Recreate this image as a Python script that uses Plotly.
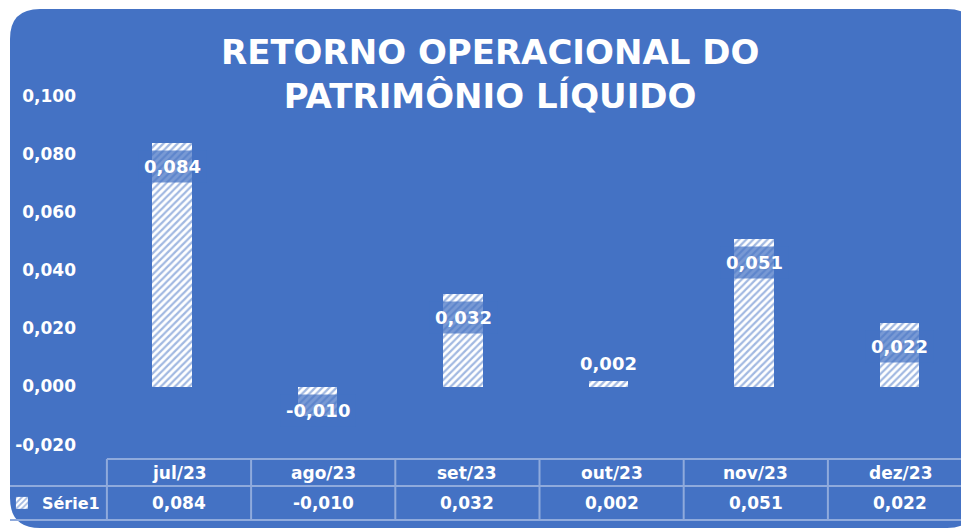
import plotly.graph_objects as go

# ---------------- data ----------------
categories = ["jul/23", "ago/23", "set/23", "out/23", "nov/23", "dez/23"]
values = [0.084, -0.010, 0.032, 0.002, 0.051, 0.022]
series_name = "Série1"
title_lines = ["RETORNO OPERACIONAL DO", "PATRIMÔNIO LÍQUIDO"]
y_tick_values = [-0.02, 0.0, 0.02, 0.04, 0.06, 0.08, 0.10]
y_tick_labels = ["-0,020", "0,000", "0,020", "0,040", "0,060", "0,080", "0,100"]

# ---------------- styling ----------------
W, H = 961, 530
BLUE = "#4472C4"
LINE = "#8FAADC"
FONT = "DejaVu Sans"


def fmt(v):
    return f"{v:.3f}".replace(".", ",")


def fx(p):  # pixel -> paper x
    return p / W


def fy(p):  # pixel -> paper y
    return 1 - p / H


n = len(categories)
idx = list(range(n))

# plot area geometry (pixels)
plot_left = 77
bar_c0, bar_step = 172.0, 145.5      # bar centres
tab_c0, tab_step = 179.0, 144.2      # data-table column centres
y_top_px, y_bot_px = 95.6, 444.6     # 0.100 and -0.020

x_rng = [(plot_left - bar_c0) / bar_step, (W - bar_c0) / bar_step]
x2_rng = [(plot_left - tab_c0) / tab_step, (W - tab_c0) / tab_step]

fig = go.Figure()

fig.add_trace(go.Bar(
    x=idx,
    y=values,
    name=series_name,
    width=0.27,
    marker=dict(
        color="white",
        line=dict(width=0),
        pattern=dict(shape="/", bgcolor="white", fgcolor=BLUE,
                     size=5, solidity=0.45),
    ),
    hoverinfo="skip",
    showlegend=True,
))

# invisible helper trace for the data-table axis
fig.add_trace(go.Scatter(x=idx, y=[None] * n, xaxis="x2", mode="markers",
                         showlegend=False, hoverinfo="skip"))

shapes = []
# rounded blue background
L, T, R, B, r = 10, 9, 977, 528, 30
rx, ry = r / W, r / H
path = (
    f"M{fx(L)},{fy(T) - ry} "
    f"Q{fx(L)},{fy(T)} {fx(L) + rx},{fy(T)} "
    f"L{fx(R) - rx},{fy(T)} "
    f"Q{fx(R)},{fy(T)} {fx(R)},{fy(T) - ry} "
    f"L{fx(R)},{fy(B) + ry} "
    f"Q{fx(R)},{fy(B)} {fx(R) - rx},{fy(B)} "
    f"L{fx(L) + rx},{fy(B)} "
    f"Q{fx(L)},{fy(B)} {fx(L)},{fy(B) + ry} Z"
)
shapes.append(dict(type="path", path=path, xref="paper", yref="paper",
                   fillcolor=BLUE, line=dict(width=0), layer="below"))

# data table grid
row_top, row_mid, row_bot = 459, 486, 520
shapes.append(dict(type="line", xref="x2", yref="paper", x0=-0.5, x1=n - 0.5,
                   y0=fy(row_top), y1=fy(row_top), line=dict(color=LINE, width=2)))
for yy in (row_mid, row_bot):
    shapes.append(dict(type="line", xref="paper", yref="paper", x0=fx(L), x1=1,
                       y0=fy(yy), y1=fy(yy), line=dict(color=LINE, width=2)))
for k in range(n + 1):
    shapes.append(dict(type="line", xref="x2", yref="paper", x0=k - 0.5, x1=k - 0.5,
                       y0=fy(row_top), y1=fy(row_bot), line=dict(color=LINE, width=2)))

annotations = []
# title
annotations.append(dict(
    text="<br>".join(title_lines), xref="paper", yref="paper",
    x=fx(490), y=fy(74), xanchor="center", yanchor="middle", showarrow=False,
    font=dict(family=FONT, size=34, color="white", weight="bold"),
))

# data labels
for i, v in enumerate(values):
    if abs(v) < 0.005:
        annotations.append(dict(
            text=fmt(v), x=i, y=v, xref="x", yref="y", showarrow=False,
            xanchor="center", yanchor="bottom", yshift=1,
            font=dict(family=FONT, size=18, color="white", weight="bold"),
            borderpad=5,
        ))
    else:
        annotations.append(dict(
            text=fmt(v), x=i, y=max(v, 0), xref="x", yref="y", showarrow=False,
            xanchor="center", yanchor="top", yshift=-8,
            font=dict(family=FONT, size=18, color="white", weight="bold"),
            bgcolor="rgba(68,114,196,0.72)", borderpad=5,
        ))

# data table text
for i, (c, v) in enumerate(zip(categories, values)):
    annotations.append(dict(
        text=c, x=i, y=fy((row_top + row_mid) / 2), xref="x2", yref="paper",
        showarrow=False, xanchor="center", yanchor="middle",
        font=dict(family=FONT, size=17, color="white", weight="bold"),
    ))
    annotations.append(dict(
        text=fmt(v), x=i, y=fy((row_mid + row_bot) / 2), xref="x2", yref="paper",
        showarrow=False, xanchor="center", yanchor="middle",
        font=dict(family=FONT, size=17, color="white", weight="bold"),
    ))

fig.update_layout(
    width=W, height=H,
    margin=dict(l=0, r=0, t=0, b=0, autoexpand=False),
    paper_bgcolor="white",
    plot_bgcolor="rgba(0,0,0,0)",
    shapes=shapes,
    annotations=annotations,
    bargap=0,
    xaxis=dict(domain=[fx(plot_left), 1], range=x_rng, showticklabels=False,
               showgrid=False, zeroline=False, showline=False, ticks="",
               fixedrange=True, automargin=False),
    xaxis2=dict(domain=[fx(plot_left), 1], range=x2_rng, overlaying="x",
                visible=False, fixedrange=True, automargin=False),
    yaxis=dict(domain=[fy(y_bot_px), fy(y_top_px)], range=[-0.02, 0.10],
               tickvals=y_tick_values, ticktext=y_tick_labels,
               showgrid=False, zeroline=False, showline=False, ticks="",
               tickfont=dict(family=FONT, size=17, color="white", weight="bold"),
               fixedrange=True, automargin=False),
    legend=dict(x=0.002, y=fy((row_mid + row_bot) / 2), xanchor="left", yanchor="middle",
                bgcolor="rgba(0,0,0,0)", borderwidth=0,
                font=dict(family=FONT, size=16, color="white", weight="bold"),
                itemwidth=30),
    hovermode=False,
)

fig.write_html(
    "out.html",
    config={"displayModeBar": False},
    post_script="document.body.style.margin='0';document.body.style.overflow='hidden';",
)
